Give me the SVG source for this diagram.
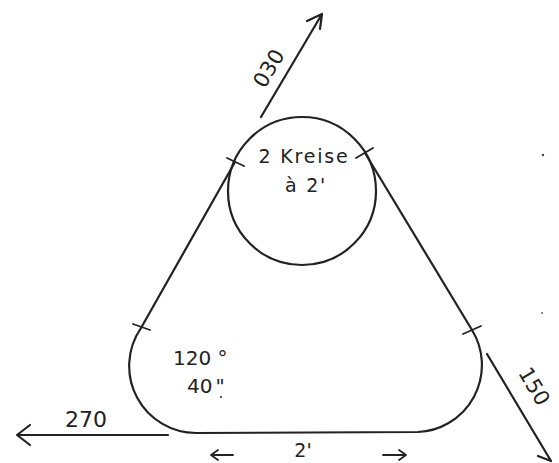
<svg xmlns="http://www.w3.org/2000/svg" width="559" height="463" viewBox="0 0 559 463">
<style>
.ln{fill:none;stroke:#222;stroke-width:2.2;stroke-linecap:round;stroke-linejoin:round}
.sm{fill:none;stroke:#222;stroke-width:1.8;stroke-linecap:round;stroke-linejoin:round}
.tk{fill:none;stroke:#222;stroke-width:1.8;stroke-linecap:round}
.t{font-family:"DejaVu Sans",sans-serif;fill:#222}
</style>
<rect width="559" height="463" fill="#fff"/>
<g id="pattern">
<circle class="ln" cx="302" cy="191" r="74"/>
<path class="ln" d="M235,162 L141,328 A67,67 0 0 0 197,433 L418,432 A67,67 0 0 0 472,330 L365,153"/>
<path class="tk" d="M227,158 L244,166 M356,158 L373,148 M133,324 L150,330 M463,334 L481,326"/>
</g>
<g id="labels">
<text class="t" x="304" y="163" font-size="19" letter-spacing="1.8" text-anchor="middle">2 Kreise</text>
<text class="t" x="306" y="192" font-size="19" letter-spacing="1.8" text-anchor="middle">à 2'</text>
<text class="t" x="173" y="365" font-size="20">120 °</text>
<text class="t" x="187" y="393" font-size="20">40<tspan dx="3">"</tspan></text>
<circle cx="221" cy="397" r="1" fill="#222"/>
<text class="t" x="65" y="427" font-size="22">270</text>
<text class="t" x="303" y="457" font-size="19" text-anchor="middle">2'</text>
<text class="t" font-size="21" text-anchor="middle" transform="translate(275,72) rotate(-59.4)">030</text>
<text class="t" font-size="21" text-anchor="middle" transform="translate(528,390) rotate(59.3)">150</text>
</g>
<g id="connectors">
<path class="ln" d="M261,117 L322,14 M307,21 L322,14 L320,29"/>
<path class="ln" d="M168,435 L17,435 M30,425 L17,435 L30,445"/>
<path class="ln" d="M487,354 L551,461 M538,456 L551,461"/>
<path class="sm" d="M233,455 L211,455 M218,450 L211,455 L218,460"/>
<path class="sm" d="M383,455 L406,455 M399,450 L406,455 L399,460"/>
</g>
<circle cx="543" cy="155" r="1.2" fill="#444"/>
<circle cx="542" cy="313" r="1" fill="#666"/>
</svg>
